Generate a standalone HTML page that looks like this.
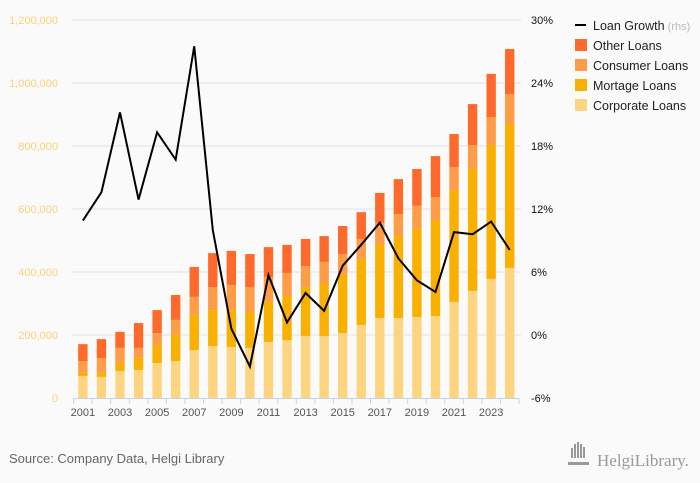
<!DOCTYPE html>
<html><head><meta charset="utf-8"><style>
body{margin:0;background:#fafafa;font-family:"Liberation Sans",sans-serif}
svg{display:block}
</style></head><body>
<svg id="c" width="700" height="483" viewBox="0 0 700 483"></svg>
<script>
const years=[2001,2002,2003,2004,2005,2006,2007,2008,2009,2010,2011,2012,2013,2014,2015,2016,2017,2018,2019,2020,2021,2022,2023,2024];
const corporate=[70,67,86,89,111,117,152,165,162,159,178,184,197,197,206,232,254,254,257,260,305,340,378,413];
const mortgage=[10,13,25,39,57,83,112,114,117,114,127,140,155,168,188,209,235,260,280,305,355,387,425,457];
const consumer=[37,47,48,31,38,48,57,73,80,79,79,73,67,67,63,64,67,70,73,73,73,76,89,95];
const other=[54,60,51,79,73,79,95,108,108,105,95,89,86,82,89,85,95,111,117,130,105,130,137,143];
const growth=[10.9,13.6,21.2,12.9,19.3,16.7,27.5,10.0,0.6,-3.0,5.7,1.2,4.0,2.3,6.6,8.6,10.7,7.3,5.2,4.1,9.8,9.6,10.8,8.1];
const leftTicks=[0,200000,400000,600000,800000,1000000,1200000];
const leftTickLabels=["0","200,000","400,000","600,000","800,000","1,000,000","1,200,000"];
const rightTicks=[-6,0,6,12,18,24,30];
const rightTickLabels=["-6%","0%","6%","12%","18%","24%","30%"];
const NS="http://www.w3.org/2000/svg";
const svg=document.getElementById('c');
const X0=73.6,X1=519,Y0=398,Y1=20;
const bw=(X1-X0)/years.length;
const yL=v=>Y0-(v/1200000)*(Y0-Y1);
const yR=v=>Y0-((v+6)/36)*(Y0-Y1);
const xC=i=>X0+bw*(i+0.5);
function mk(t,a,p){const e=document.createElementNS(NS,t);for(const k in a)e.setAttribute(k,a[k]);(p||svg).appendChild(e);return e;}
leftTicks.forEach((v,i)=>{
  if(i>0){const g=mk('line',{x1:X0-2,x2:X1+2,y1:yL(v),y2:yL(v),stroke:'#e2e2e2','stroke-width':1});
  
  }
  const t=mk('text',{x:58,y:yL(v)+4,'text-anchor':'end','font-size':11,fill:'#fdd07a'});t.textContent=leftTickLabels[i];
  
  
});
rightTicks.forEach((v,i)=>{
  const t=mk('text',{x:531,y:yR(v)+4,'font-size':11,fill:'#111'});t.textContent=rightTickLabels[i];
  
  
});
const series=[[corporate,'#fdd581','corporate'],[mortgage,'#f9b000','mortgage'],[consumer,'#fe9c48','consumer'],[other,'#fe6a2b','other']];
years.forEach((yr,i)=>{
  let base=0;
  series.forEach(([arr,col,nm])=>{
    const v=arr[i]*1000;
    const r=mk('rect',{x:xC(i)-4.7,width:9.4,y:yL(base+v),height:yL(base)-yL(base+v),fill:col});
    
    
    base+=v;
  });
});
const ax=mk('line',{x1:X0,x2:X1,y1:Y0+0.5,y2:Y0+0.5,stroke:'#c5d3e8','stroke-width':1});


for(let i=0;i<=years.length;i++){
  const tk=mk('line',{x1:X0+bw*i,x2:X0+bw*i,y1:Y0,y2:Y0+6,stroke:'#c5d3e8','stroke-width':1});
  
  
}
years.forEach((yr,i)=>{
  if(i%2)return;
  const t=mk('text',{x:xC(i),y:416,'text-anchor':'middle','font-size':11,fill:'#555'});t.textContent=yr;
  
  
});
const pl=mk('polyline',{points:growth.map((g,i)=>xC(i)+','+yR(g)).join(' '),fill:'none',stroke:'#000','stroke-width':2,'stroke-linejoin':'miter'});


const leg=[['Loan Growth','line'],['Other Loans','#fe6a2b'],['Consumer Loans','#fe9c48'],['Mortage Loans','#f9b000'],['Corporate Loans','#fdd581']];
leg.forEach(([lab,c],i)=>{
  const y=25+i*20;
  const g=mk('g',{});
  
  
  if(c==='line')mk('line',{x1:575,x2:586,y1:y,y2:y,stroke:'#000','stroke-width':2},g);
  else mk('rect',{x:575,y:y-6,width:12,height:12,fill:c},g);
  const t=mk('text',{x:593,y:y+5,'font-size':12.5,fill:'#222'},g);t.textContent=lab;
  if(c==='line'){const s=mk('tspan',{fill:'#bbb','font-size':11},t);s.textContent=' (rhs)';}
});
const src=mk('text',{x:9,y:463,'font-size':13,fill:'#666'});src.textContent='Source: Company Data, Helgi Library';


const lg=mk('g',{});


[0,3,6,9,12].forEach((d,k)=>mk('rect',{x:571+d,y:452-[4,8,10,8,5][k],width:2,height:[4,8,10,8,5][k]+6,fill:'#999'},lg));
mk('rect',{x:568,y:462,width:21,height:3,fill:'#999'},lg);
const lt=mk('text',{x:597,y:466,'font-size':17,fill:'#999','font-family':'Liberation Serif, serif'},lg);lt.textContent='HelgiLibrary.';
</script>
</body></html>
